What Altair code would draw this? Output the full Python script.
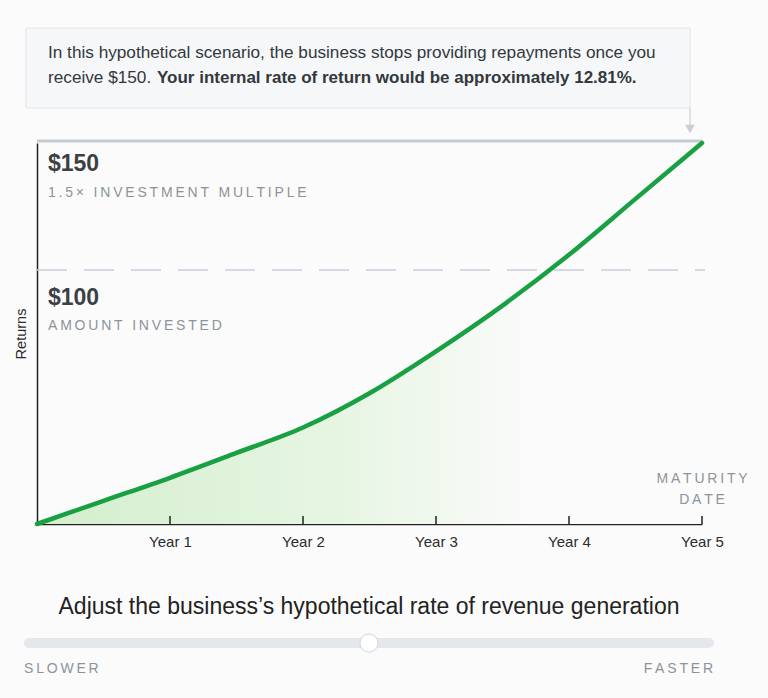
import altair as alt
import pandas as pd

# ---- data ----
years_t = [0, 0.5, 1, 1.5, 2, 2.5, 3, 3.5, 4, 4.5, 5]
returns = [0, 9.1, 18.2, 28.0, 38.0, 51.5, 68.0, 86.0, 106.0, 128.0, 150.0]
tick_years = [1, 2, 3, 4, 5]
invested = 100
target = 150

FONT = "Liberation Sans"
GRAY = "#8d9399"
DARK = "#3b4045"
TS = "\u2009"


def spaced(s):
    return TS.join(list(s))


curve = pd.DataFrame({"t": years_t, "v": returns})
ticks = pd.DataFrame({"t": tick_years})

xs = alt.Scale(domain=[0, 5], nice=False, zero=False)
ys = alt.Scale(domain=[0, 150], nice=False)

X = alt.X("t:Q", scale=xs,
          axis=alt.Axis(title=None, values=tick_years, labelExpr="'Year ' + datum.value",
                        ticks=False, grid=False, domainColor="#222", domainWidth=1.5,
                        labelFont=FONT, labelFontSize=15, labelColor="#2b2b2b",
                        labelPadding=10, labelFlush=False))
Y = alt.Y("v:Q", scale=ys,
          axis=alt.Axis(title="Returns", labels=False, ticks=False, grid=False,
                        domainColor="#222", domainWidth=1.5, titleFont=FONT,
                        titleFontSize=14.5, titleFontWeight="normal", titleColor="#2b2b2b",
                        titlePadding=9))

base = alt.Chart(curve)

area = base.mark_area(
    interpolate="monotone",
    color=alt.Gradient(gradient="linear", x1=0, x2=1, y1=0, y2=0,
                       stops=[alt.GradientStop(color="#d3eecd", offset=0),
                              alt.GradientStop(color="#e6f5e2", offset=0.45),
                              alt.GradientStop(color="#fbfbfb", offset=0.75)])
).encode(x=X, y=Y)

line = base.mark_line(interpolate="monotone", color="#18a043", strokeWidth=4.5,
                      strokeCap="round").encode(x="t:Q", y="v:Q")

one = pd.DataFrame({"a": [0]})
o = alt.Chart(one)

dash = o.mark_rule(color="#c7d0dc", strokeWidth=1.5, strokeDash=[30, 17]).encode(
    y=alt.datum(invested), x=alt.value(0), x2=alt.value(668))
topline = o.mark_rule(color="#c5cbd1", strokeWidth=3, yOffset=-2).encode(
    y=alt.datum(target), x=alt.value(0), x2=alt.value(665))

tick_marks = alt.Chart(ticks).mark_rule(color="#222", strokeWidth=1.5).encode(
    x="t:Q", y=alt.datum(0), y2=alt.value(373))


def txt(text, x, y, size=14, weight="normal", color=DARK, align="left", **kw):
    return o.mark_text(text=text, font=FONT, fontSize=size, fontWeight=weight, color=color,
                       align=align, baseline="middle", **kw).encode(x=x, y=y)


lab150 = txt("$150", alt.value(11), alt.value(21), size=23, weight="bold")
sub150 = txt(spaced("1.5× INVESTMENT MULTIPLE"), alt.value(11), alt.value(50), color=GRAY)
lab100 = txt("$100", alt.value(11), alt.value(155), size=23, weight="bold")
sub100 = txt(spaced("AMOUNT INVESTED"), alt.value(11), alt.value(183), color=GRAY)
mat1 = txt(spaced("MATURITY"), alt.datum(5), alt.value(336), color=GRAY, align="center")
mat2 = txt(spaced("DATE"), alt.datum(5), alt.value(357), color=GRAY, align="center")

# top note box
box = o.mark_rect(fill="#f5f7f9", stroke="#e0e5ea", strokeWidth=1).encode(
    x=alt.value(-11), x2=alt.value(653), y=alt.value(-115), y2=alt.value(-35))
conn = o.mark_rule(color="#d5dade", strokeWidth=1.5).encode(
    x=alt.value(653), y=alt.value(-35), y2=alt.value(-18))
arrow = o.mark_point(shape="triangle-down", filled=True, color="#c9ced4", size=95,
                     opacity=1).encode(x=alt.value(653), y=alt.value(-14))
note1 = txt("In this hypothetical scenario, the business stops providing repayments once you",
            alt.value(11), alt.value(-90), size=17.2, color="#33383d")
note2a = txt("receive $150.", alt.value(11), alt.value(-65), size=17.2, color="#33383d")
note2b = txt("Your internal rate of return would be approximately 12.81%.",
             alt.value(120), alt.value(-65), size=17, weight="bold", color="#33383d")

# slider
title2 = txt("Adjust the business’s hypothetical rate of revenue generation",
             alt.value(332), alt.value(464), size=23, color="#222", align="center")
track = o.mark_rule(color="#e4e8ec", strokeWidth=10, strokeCap="round").encode(
    x=alt.value(-8), x2=alt.value(672), y=alt.value(500))
knob = o.mark_point(shape="circle", filled=True, fill="white", stroke="#cfd4d9",
                    strokeWidth=1, size=330, opacity=1).encode(
    x=alt.value(332), y=alt.value(500))
slower = txt(spaced("SLOWER"), alt.value(-13), alt.value(526), color=GRAY)
faster = txt(spaced("FASTER"), alt.value(676), alt.value(526), color=GRAY, align="right")

chart = alt.layer(
    area, dash, topline, line, tick_marks, lab150, sub150, lab100, sub100, mat1, mat2,
    box, conn, arrow, note1, note2a, note2b, title2, track, knob, slower, faster
).properties(
    width=665, height=381,
    autosize=alt.AutoSizeParams(type="none"),
    padding={"left": 37, "top": 143, "right": 66, "bottom": 174},
    background="#fbfbfb",
).configure_view(stroke=None)

chart.save("out.html", embed_options={"renderer": "svg", "actions": False})
